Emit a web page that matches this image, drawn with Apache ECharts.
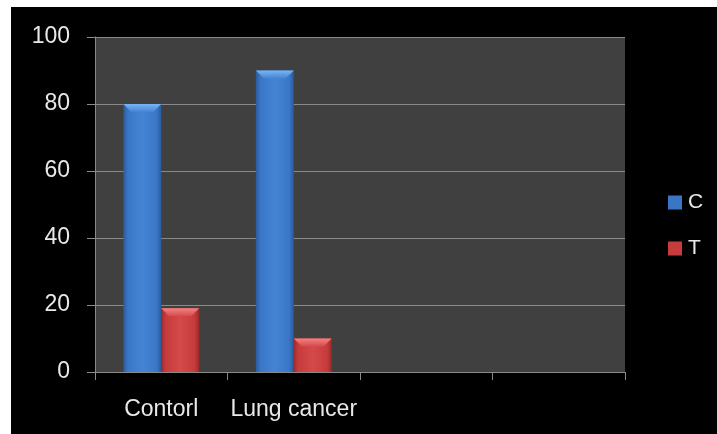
<!DOCTYPE html>
<html>
<head>
<meta charset="utf-8">
<script src="https://cdn.jsdelivr.net/npm/echarts@6/dist/echarts.min.js"></script>
<style>
  html, body { margin: 0; padding: 0; background: #ffffff; }
  #chart { position: absolute; left: 11px; top: 7px; width: 706px; height: 427px; background: #000000; }
</style>
</head>
<body>
<div id="chart"></div>
<script>
// Categories on the x axis (the last two slots are empty)
const categories = ['Contorl', 'Lung cancer', '', ''];
// Series values
const seriesNames = ['C', 'T'];
const cValues = [80, 90];
const tValues = [19, 10];
// Y axis range
const yMin = 0, yMax = 100, yStep = 20;

const palette = {
  C: { edge: '#2a5a9c', body: '#3a76c6', mid: '#4584d4', top: '#7ab4f4', legend: '#3a76c6' },
  T: { edge: '#9c2a2a', body: '#c63c3c', mid: '#d44a4a', top: '#f48282', legend: '#c63c3c' }
};

// Draws one bevelled bar; slot 0 = left bar of the group, slot 1 = right bar
function bevelBar(slot, colors) {
  return function (params, api) {
    const cat = api.value(0);
    const val = api.value(1);
    const top = api.coord([cat, val]);
    const base = api.coord([cat, 0]);
    const band = api.size([1, 0])[0];
    const bw = band / 3.5;
    const x = top[0] - bw + slot * bw;
    const y = top[1];
    const h = base[1] - top[1];
    const bev = Math.min(8, h / 2);
    const bodyFill = new echarts.graphic.LinearGradient(0, 0, 1, 0, [
      { offset: 0, color: colors.edge },
      { offset: 0.12, color: colors.body },
      { offset: 0.5, color: colors.mid },
      { offset: 0.88, color: colors.body },
      { offset: 1, color: colors.edge }
    ]);
    const topFill = new echarts.graphic.LinearGradient(0, 0, 0, 1, [
      { offset: 0, color: colors.top },
      { offset: 1, color: colors.mid }
    ]);
    return {
      type: 'group',
      children: [
        { type: 'rect', shape: { x: x, y: y, width: bw, height: h }, style: { fill: bodyFill } },
        { type: 'polygon', shape: { points: [[x, y], [x + bw, y], [x + bw - bev, y + bev], [x + bev, y + bev]] }, style: { fill: topFill } }
      ]
    };
  };
}

const axisGray = '#8a8a8a';
const textColor = '#e8e8e8';
const font = 'Liberation Sans, Arial, sans-serif';

const chart = echarts.init(document.getElementById('chart'));
chart.setOption({
  backgroundColor: '#000000',
  animation: false,
  grid: { left: 84, top: 30, right: 92, bottom: 62, show: true, backgroundColor: '#404040', borderWidth: 0 },
  legend: {
    orient: 'vertical',
    left: 657,
    top: 185,
    padding: 0,
    itemWidth: 14,
    itemHeight: 14,
    itemGap: 25,
    icon: 'rect',
    data: seriesNames,
    textStyle: { color: textColor, fontSize: 21, fontFamily: font, padding: [0, 0, 0, 1] }
  },
  xAxis: {
    type: 'category',
    data: categories,
    boundaryGap: true,
    axisLine: { show: true, lineStyle: { color: axisGray, width: 1 } },
    axisTick: { show: true, interval: 0, length: 8, lineStyle: { color: axisGray } },
    axisLabel: { color: textColor, fontSize: 23, fontFamily: font, margin: 26, interval: 0, hideOverlap: false },
    splitLine: { show: false }
  },
  yAxis: {
    type: 'value',
    min: yMin, max: yMax, interval: yStep,
    axisLine: { show: true, lineStyle: { color: axisGray, width: 1 } },
    axisTick: { show: true, length: 8, lineStyle: { color: axisGray } },
    axisLabel: { color: textColor, fontSize: 23, fontFamily: font, margin: 25 },
    splitLine: { show: true, lineStyle: { color: axisGray, width: 1 } }
  },
  series: [
    {
      name: 'C', type: 'custom',
      itemStyle: { color: palette.C.legend },
      renderItem: bevelBar(0, palette.C),
      encode: { x: 0, y: 1 },
      data: cValues.map((v, i) => [i, v])
    },
    {
      name: 'T', type: 'custom',
      itemStyle: { color: palette.T.legend },
      renderItem: bevelBar(1, palette.T),
      encode: { x: 0, y: 1 },
      data: tValues.map((v, i) => [i, v])
    }
  ]
});
</script>
</body>
</html>
